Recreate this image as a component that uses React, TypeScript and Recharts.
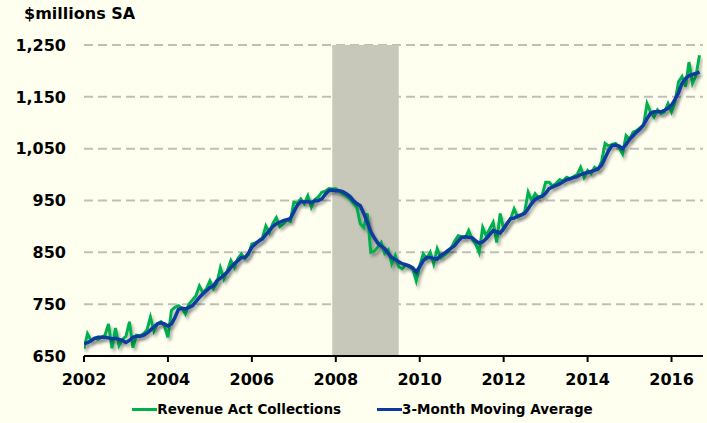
import React from 'react';
import { LineChart, Line, XAxis, YAxis, CartesianGrid, ReferenceArea, Legend } from 'recharts';

const startYear = 2002;

// Monthly, Jan 2002 - Sep 2016
const revenueActCollections = [
  664, 693, 680, 684, 682, 686, 690, 712, 665, 704, 670, 682,
  688, 716, 666, 690, 689, 693, 700, 725, 698, 712, 716, 708,
  686, 738, 744, 747, 742, 731, 750, 758, 766, 785, 772, 780,
  795, 780, 790, 820, 799, 815, 834, 821, 838, 847, 838, 845,
  866, 868, 872, 878, 901, 888, 906, 917, 900, 905, 912, 910,
  947, 945, 953, 944, 959, 937, 952, 957, 966, 968, 973, 972,
  973, 968, 963, 959, 953, 945, 937, 905, 898, 925, 850, 852,
  860, 869, 848, 855, 828, 844, 822, 818, 826, 822, 818, 795,
  824, 847, 838, 850, 828, 857, 840, 845, 850, 858, 872, 882,
  880, 878, 892, 875, 866, 850, 898, 882, 895, 908, 869, 925,
  895, 905, 915, 934, 918, 922, 928, 966, 950, 963, 955, 960,
  985, 985, 978, 983, 990, 988, 995, 992, 996, 1000, 1014, 995,
  1008, 1002, 1014, 1010, 1025, 1060, 1055, 1058, 1060, 1052, 1040, 1075,
  1068, 1082, 1085, 1090, 1095, 1137, 1121, 1111, 1125, 1118, 1121, 1137,
  1121, 1140, 1179, 1189, 1170, 1217, 1176, 1191, 1230,
];

const movingAverage3M = [
  674, 676, 679, 684, 686, 686, 686, 685, 683, 684, 682, 680,
  676, 680, 686, 688, 688, 690, 694, 700, 706, 712, 714, 712,
  708, 712, 724, 740, 742, 741, 744, 747, 755, 763, 770, 776,
  782, 785, 795, 800, 806, 812, 821, 828, 834, 840, 840, 848,
  860, 866, 872, 876, 884, 892, 900, 905, 908, 911, 913, 915,
  928, 941, 948, 947, 948, 946, 949, 950, 953, 962, 969, 970,
  969, 969, 967, 963, 958, 950, 944, 940, 925, 908, 890, 878,
  868, 862, 857, 848, 840, 836, 832, 828, 826, 824, 820, 812,
  822, 834, 840, 840, 838, 837, 844, 848, 853, 858, 863, 872,
  879, 880, 879, 878, 872, 868, 870, 876, 884, 892, 890, 887,
  896, 906, 915, 916, 920, 922, 925, 934, 944, 952, 956, 958,
  964, 973, 976, 979, 982, 986, 990, 992, 994, 996, 1000, 1002,
  1004, 1006, 1008, 1011, 1018, 1032, 1046, 1056, 1057, 1055, 1050, 1058,
  1068, 1075, 1082, 1088, 1096, 1108, 1118, 1121, 1121, 1121, 1124, 1128,
  1134, 1145, 1158, 1176, 1185, 1191, 1193, 1195, 1198,
];

const yTicks = [650, 750, 850, 950, 1050, 1150, 1250];
const xTicks = [2002, 2004, 2006, 2008, 2010, 2012, 2014, 2016];
const recessionStart = 2007 + 11 / 12;
const recessionEnd = 2009.5;
const seriesNames = ['Revenue Act Collections', '3-Month Moving Average'];
const seriesColors = ['#00b050', '#0b3a9e'];
const yTitle = '$millions SA';

const data = revenueActCollections.map((v, i) => ({
  t: startYear + i / 12,
  rev: v,
  ma: movingAverage3M[i],
}));

const FONT = '"DejaVu Sans", Verdana, sans-serif';

const renderLegend = () => (
  <div
    style={{
      display: 'flex',
      justifyContent: 'center',
      gap: 36,
      fontFamily: FONT,
      fontWeight: 'bold',
      fontSize: 13.5,
      lineHeight: '17px',
      color: '#000',
      paddingLeft: 8,
    }}
  >
    {seriesNames.map((name, i) => (
      <span key={name} style={{ display: 'flex', alignItems: 'center' }}>
        <span style={{ display: 'inline-block', width: 25, height: 3, background: seriesColors[i] }} />
        {name}
      </span>
    ))}
  </div>
);

export default function App() {
  return (
    <div
      style={{
        position: 'absolute',
        left: 0,
        top: 0,
        width: 707,
        height: 423,
        background: '#fffff0',
      }}
    >
      <div
        style={{
          position: 'absolute',
          left: 24,
          top: 6,
          fontFamily: FONT,
          fontWeight: 'bold',
          fontSize: 16,
          lineHeight: '16px',
          color: '#000',
          whiteSpace: 'nowrap',
        }}
      >
        {yTitle}
      </div>
      <LineChart
        width={707}
        height={423}
        data={data}
        margin={{ top: 45, right: 4, bottom: 20, left: 14 }}
      >
        <defs>
          <filter id="lineShadow" x="-5%" y="-5%" width="110%" height="120%">
            <feDropShadow dx="2" dy="3" stdDeviation="1.5" floodColor="#000" floodOpacity="0.3" />
          </filter>
        </defs>
        <ReferenceArea
          x1={recessionStart}
          x2={recessionEnd}
          y1={650}
          y2={1250}
          fill="#c8c8ba"
          fillOpacity={1}
          stroke="none"
        />
        <CartesianGrid
          vertical={false}
          stroke="#808080"
          strokeOpacity={0.5}
          strokeWidth={2}
          strokeDasharray="9 5"
        />
        <XAxis
          dataKey="t"
          type="number"
          domain={[2002, 2016.75]}
          ticks={xTicks}
          allowDataOverflow
          height={30}
          tickSize={6}
          tickMargin={12}
          axisLine={{ stroke: '#000', strokeWidth: 2 }}
          tickLine={{ stroke: '#000', strokeWidth: 2 }}
          tick={{ fill: '#000', fontSize: 16, fontWeight: 'bold', fontFamily: FONT }}
          interval={0}
        />
        <YAxis
          type="number"
          domain={[650, 1250]}
          ticks={yTicks}
          width={70}
          tickSize={6}
          tickMargin={12}
          axisLine={false}
          tickLine={false}
          tick={{ fill: '#000', fontSize: 16, fontWeight: 'bold', fontFamily: FONT }}
          tickFormatter={(v: number) => v.toLocaleString('en-US')}
          interval={0}
        />
        <Legend verticalAlign="bottom" content={renderLegend} wrapperStyle={{ bottom: 5 }} />
        <Line
          type="linear"
          dataKey="rev"
          name={seriesNames[0]}
          stroke={seriesColors[0]}
          strokeWidth={3}
          dot={false}
          activeDot={false}
          isAnimationActive={false}
          filter="url(#lineShadow)"
        />
        <Line
          type="linear"
          dataKey="ma"
          name={seriesNames[1]}
          stroke={seriesColors[1]}
          strokeWidth={3.5}
          dot={false}
          activeDot={false}
          isAnimationActive={false}
          filter="url(#lineShadow)"
        />
      </LineChart>
    </div>
  );
}
